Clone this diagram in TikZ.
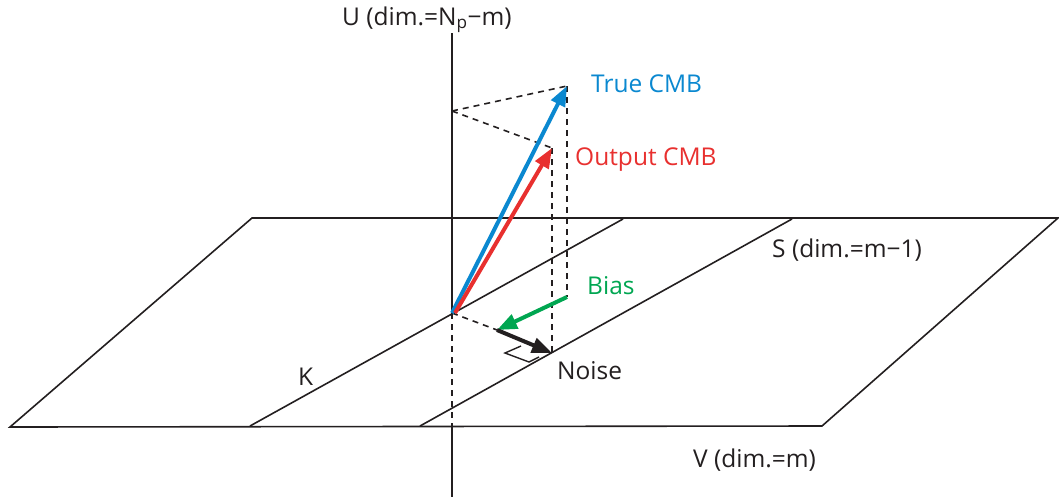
\documentclass[tikz,border=0pt]{standalone}
\usepackage{fontspec}
\setmainfont{Open Sans}
\usetikzlibrary{arrows.meta}
\definecolor{cmbblue}{RGB}{10,136,208}
\definecolor{cmbred}{RGB}{232,48,47}
\definecolor{biasgreen}{RGB}{0,166,81}
\definecolor{txtgray}{RGB}{35,31,32}
\tikzset{
  plane/.style={line width=1.6pt, txtgray, line join=miter},
  dash line/.style={line width=1.6pt, txtgray, dash pattern=on 6pt off 5pt},
  vec/.style={line width=4pt, -{Triangle[length=20pt,width=15pt]}},
  lbl/.style={anchor=base west, inner sep=0pt, font=\fontsize{24.5}{28}\selectfont}
}
\begin{document}
\begin{tikzpicture}[x=1pt,y=-1pt]
\useasboundingbox (0,0) rectangle (1059,501);
% plane
\coordinate (bl) at (10,427);
\coordinate (tl) at (252,218);
\coordinate (tr) at (1058,218);
\coordinate (br) at (822,426);
\draw[plane] (tl) -- (tr) -- (br) -- (bl) -- cycle;
% strip lines
\coordinate (k1) at (250,426);
\coordinate (k2) at (623,219);
\coordinate (s1) at (420,426);
\coordinate (s2) at (792,219);
\draw[plane] (k1) -- (k2);
\draw[plane] (s1) -- (s2);
% axis
\coordinate (utop) at (452,33);
\coordinate (O) at (452,313);
\coordinate (ubase) at (452,426);
\coordinate (ubot) at (452,497);
\draw[plane] (utop) -- (O);
\draw[dash line] (O) -- (ubase);
\draw[plane] (ubase) -- (ubot);
% key points
\coordinate (T) at (567,86);
\coordinate (R) at (552,148);
\coordinate (A) at (452,111);
\coordinate (B) at (567,297);
\coordinate (P) at (497,330);
\coordinate (N) at (552,353);
% dashed projections
\draw[dash line] (A) -- (T);
\draw[dash line] (A) -- (R);
\draw[dash line] (T) -- (B);
\draw[dash line] (R) -- (N);
\draw[dash line] (O) -- (P);
% right angle marker
\coordinate (m1) at (521,346);
\coordinate (m2) at (505,353);
\coordinate (m3) at (529,362);
\coordinate (m4) at (539,357);
\draw[line width=1.4pt, txtgray] (m1) -- (m2) -- (m3) -- (m4);
% vectors
\draw[vec, cmbblue] (O) -- (T);
\draw[vec, cmbred] ([xshift=3pt]O) -- (R);
\draw[vec, biasgreen] (B) -- (P);
\draw[vec, txtgray] (P) -- (N);
% labels
\node[lbl, txtgray] (lu) at (342,25) {U (dim.=N\textsubscript{p}−m)};
\node[lbl, cmbblue] (lt) at (591,92) {True CMB};
\node[lbl, cmbred] (lo) at (575,165) {Output CMB};
\node[lbl, biasgreen] (lb) at (587,294) {Bias};
\node[lbl, txtgray] (ln) at (557,379) {Noise};
\node[lbl, txtgray] (lk) at (298,385) {K};
\node[lbl, txtgray] (ls) at (772,257) {S (dim.=m−1)};
\node[lbl, txtgray] (lv) at (693,467) {V (dim.=m)};
\end{tikzpicture}
\end{document}
